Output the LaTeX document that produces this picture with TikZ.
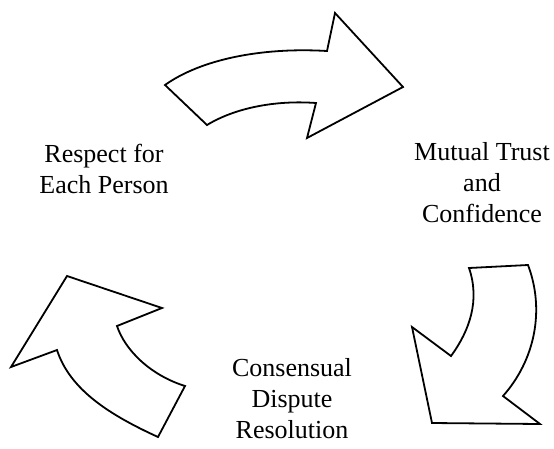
\documentclass[tikz,border=0pt]{standalone}
\usepackage{fontspec}
\setmainfont{Liberation Serif}
\begin{document}
\begin{tikzpicture}[x=1pt,y=-1pt,
  bigarrow/.style={draw=black,line width=1.8pt,fill=white,line join=miter},
  label/.style={align=center,anchor=north,inner sep=0pt,font=\fontsize{26}{31}\selectfont}]
\useasboundingbox (0,0) rectangle (554,448);
% top arrow
\draw[bigarrow] (165,85) -- (207,125)
  .. controls (235,108) and (275,100) .. (316,103)
  -- (307,138) -- (403,87) -- (335,13) -- (327,51)
  .. controls (260,47) and (200,60) .. (165,85) -- cycle;
% bottom-right arrow
\draw[bigarrow] (469,268) -- (528,265)
  .. controls (545,310) and (535,360) .. (503,396)
  -- (540,424) -- (432,423) -- (412,327) -- (451,356)
  .. controls (470,330) and (480,300) .. (469,268) -- cycle;
% bottom-left arrow
\draw[bigarrow] (67,276) -- (162,308) -- (117,326)
  .. controls (125,350) and (150,375) .. (185,386)
  -- (158,437)
  .. controls (110,415) and (70,390) .. (57,350)
  -- (11,367) -- cycle;
% labels
\node[label] (respect) at (104,144) {Respect for\\Each Person};
\node[label] (trust) at (482,142) {Mutual Trust\\and\\Confidence};
\node[label] (consensus) at (292,358) {Consensual\\Dispute\\Resolution};
\end{tikzpicture}
\end{document}
